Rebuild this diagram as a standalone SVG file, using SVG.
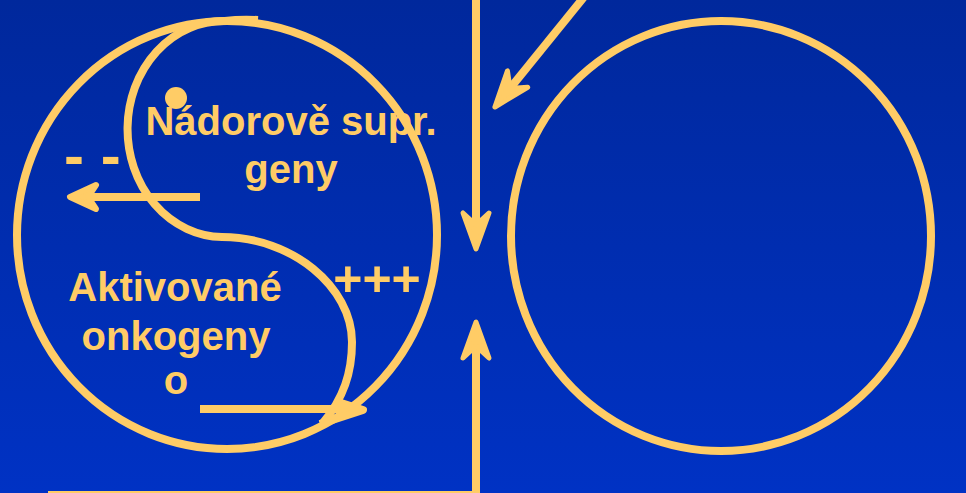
<svg xmlns="http://www.w3.org/2000/svg" width="966" height="493" viewBox="0 0 966 493">
  <defs>
    <linearGradient id="bg" x1="0" y1="0" x2="0" y2="1">
      <stop offset="0" stop-color="#00289C"/>
      <stop offset="1" stop-color="#0032C4"/>
    </linearGradient>
    <marker id="ah" markerUnits="userSpaceOnUse" orient="auto" refX="0" refY="0" markerWidth="60" markerHeight="60" overflow="visible">
      <path d="M24,0 L-12,-13 L0,0 L-12,13 Z" fill="#FFCC66" stroke="#FFCC66" stroke-width="5" stroke-linejoin="round"/>
    </marker>
    <marker id="ah2" markerUnits="userSpaceOnUse" orient="auto" refX="0" refY="0" markerWidth="60" markerHeight="60" overflow="visible">
      <path d="M18,0 L-8,-12 L0,0 L-8,12 Z" fill="#FFCC66" stroke="#FFCC66" stroke-width="6" stroke-linejoin="round"/>
    </marker>
    <style>
      .ln { fill: none; stroke: #FFCC66; stroke-width: 8; }
      .lbl { font-family: "Liberation Sans", Arial, sans-serif; font-weight: bold; fill: #FFCC66; }
    </style>
  </defs>
  <rect x="0" y="0" width="966" height="493" fill="url(#bg)"/>

  <g id="cell-left">
    <ellipse class="ln" cx="227" cy="235" rx="210" ry="214"/>
    <path id="s-curve" class="ln" d="M258,20 Q240,19 225,21 A96,108 0 0 0 222,237 C292,237 352,287 352,342 C352,372 344,398 322,424"/>
    <circle cx="176" cy="98" r="11" fill="#FFCC66"/>
    <text class="lbl" x="291" y="135" font-size="40" text-anchor="middle">Nádorově supr.</text>
    <text class="lbl" x="291" y="183" font-size="40" text-anchor="middle">geny</text>
    <text class="lbl" x="175" y="301" font-size="40" text-anchor="middle">Aktivované</text>
    <text class="lbl" x="176" y="350" font-size="40" text-anchor="middle">onkogeny</text>
    <text class="lbl" x="176" y="394" font-size="40" text-anchor="middle">o</text>
    <text class="lbl" x="377" y="296" font-size="50" text-anchor="middle">+++</text>
    <text class="lbl" x="64" y="176" font-size="60">- -</text>
  </g>

  <g id="cell-right">
    <ellipse class="ln" cx="721" cy="236" rx="210" ry="215"/>
  </g>

  <g id="connectors">
    <line class="ln" x1="476" y1="-5" x2="476" y2="225" marker-end="url(#ah)"/>
    <line class="ln" x1="476" y1="500" x2="476" y2="346" marker-end="url(#ah)"/>
    <line class="ln" x1="48" y1="495" x2="480" y2="495"/>
    <line class="ln" x1="584" y1="-3" x2="510" y2="88.4" marker-end="url(#ah)"/>
    <line class="ln" x1="200" y1="197" x2="88" y2="197" marker-end="url(#ah2)"/>
    <line class="ln" x1="200" y1="409" x2="357" y2="409"/>
    <path class="ln" d="M338,402 L363,410 L320,424" stroke-width="6" stroke-linejoin="round"/>
  </g>
</svg>
